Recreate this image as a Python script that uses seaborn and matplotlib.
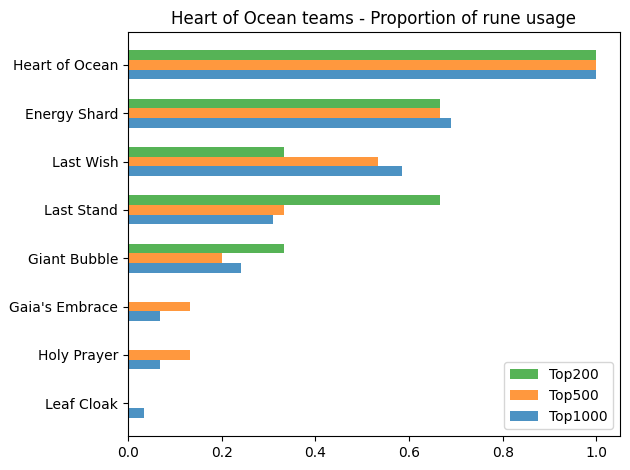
import pandas as pd
import matplotlib
matplotlib.use('Agg')
import matplotlib.pyplot as plt
import seaborn as sns

# rune names, top to bottom
runes = ['Heart of Ocean', 'Energy Shard', 'Last Wish', 'Last Stand',
         'Giant Bubble', "Gaia's Embrace", 'Holy Prayer', 'Leaf Cloak']

# proportion of teams using each rune
top200 = [1.0, 0.667, 0.333, 0.667, 0.333, 0.0, 0.0, 0.0]
top500 = [1.0, 0.667, 0.533, 0.333, 0.2, 0.133, 0.133, 0.0]
top1000 = [1.0, 0.690, 0.586, 0.310, 0.241, 0.069, 0.069, 0.034]

groups = ['Top200', 'Top500', 'Top1000']
colors = ['tab:green', 'tab:orange', 'tab:blue']

df = pd.DataFrame({'rune': runes, 'Top200': top200, 'Top500': top500, 'Top1000': top1000})
long_df = df.melt(id_vars='rune', var_name='group', value_name='proportion')

fig, ax = plt.subplots(figsize=(6.3, 4.7), dpi=100)
sns.barplot(data=long_df, y='rune', x='proportion', hue='group', hue_order=groups,
            order=runes, palette=colors, orient='h', width=0.6, saturation=1,
            alpha=0.8, linewidth=0, ax=ax)

ax.set_ylim(len(runes) - 1 + 0.68, -0.68)
ax.set_xlim(0, 1.05)
ax.set_xlabel('')
ax.set_ylabel('')
ax.set_title('Heart of Ocean teams - Proportion of rune usage')
ax.legend(loc='lower right', title=None)

fig.subplots_adjust(left=0.203, right=0.984, top=0.932, bottom=0.072)
plt.savefig('out.png', dpi=100)
